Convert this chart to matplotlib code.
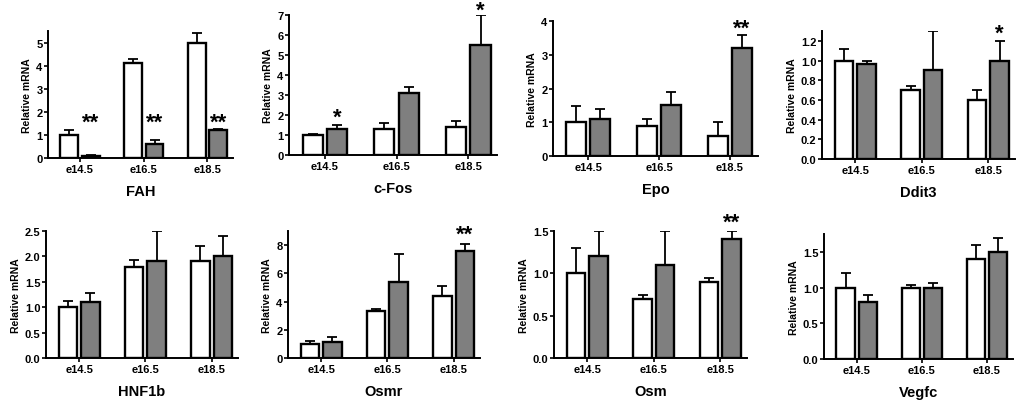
import numpy as np
import matplotlib
matplotlib.use('Agg')
import matplotlib.pyplot as plt

plt.rcParams['font.family'] = ['Liberation Sans', 'DejaVu Sans']

stages = ['e14.5', 'e16.5', 'e18.5']
genes = ['FAH', 'c-Fos', 'Epo', 'Ddit3', 'HNF1b', 'Osmr', 'Osm', 'Vegfc']

# white (control) and grey (treated) means + upper error
white = {
    'FAH':   [1.0, 4.1, 5.0],
    'c-Fos': [1.0, 1.3, 1.4],
    'Epo':   [1.0, 0.9, 0.6],
    'Ddit3': [1.0, 0.7, 0.6],
    'HNF1b': [1.0, 1.8, 1.9],
    'Osmr':  [1.0, 3.3, 4.4],
    'Osm':   [1.0, 0.7, 0.9],
    'Vegfc': [1.0, 1.0, 1.4],
}
white_err = {
    'FAH':   [0.2, 0.2, 0.4],
    'c-Fos': [0.07, 0.3, 0.3],
    'Epo':   [0.48, 0.2, 0.4],
    'Ddit3': [0.12, 0.04, 0.1],
    'HNF1b': [0.13, 0.13, 0.3],
    'Osmr':  [0.2, 0.2, 0.7],
    'Osm':   [0.3, 0.04, 0.04],
    'Vegfc': [0.2, 0.04, 0.2],
}
grey = {
    'FAH':   [0.1, 0.6, 1.2],
    'c-Fos': [1.3, 3.1, 5.5],
    'Epo':   [1.1, 1.5, 3.2],
    'Ddit3': [0.96, 0.9, 1.0],
    'HNF1b': [1.1, 1.9, 2.0],
    'Osmr':  [1.1, 5.4, 7.6],
    'Osm':   [1.2, 1.1, 1.4],
    'Vegfc': [0.8, 1.0, 1.5],
}
grey_err = {
    'FAH':   [0.02, 0.2, 0.07],
    'c-Fos': [0.2, 0.3, 1.5],
    'Epo':   [0.3, 0.4, 0.4],
    'Ddit3': [0.04, 0.4, 0.2],
    'HNF1b': [0.17, 0.6, 0.4],
    'Osmr':  [0.4, 2.0, 0.5],
    'Osm':   [0.3, 0.4, 0.1],
    'Vegfc': [0.1, 0.06, 0.2],
}
# significance marks: (group index, label, y)
stars = {
    'FAH':   [(0, '**', 1.55), (1, '**', 1.55), (2, '**', 1.55)],
    'c-Fos': [(0, '*', 1.9), (2, '*', 7.25)],
    'Epo':   [(2, '**', 3.8)],
    'Ddit3': [(2, '*', 1.28)],
    'Osmr':  [(2, '**', 8.8)],
    'Osm':   [(2, '**', 1.6)],
}
ylims = {'FAH': 5.5, 'c-Fos': 7, 'Epo': 4, 'Ddit3': 1.3,
         'HNF1b': 2.5, 'Osmr': 9, 'Osm': 1.5, 'Vegfc': 1.75}
yticks = {
    'FAH': [0, 1, 2, 3, 4, 5],
    'c-Fos': [0, 1, 2, 3, 4, 5, 6, 7],
    'Epo': [0, 1, 2, 3, 4],
    'Ddit3': [0.0, 0.2, 0.4, 0.6, 0.8, 1.0, 1.2],
    'HNF1b': [0.0, 0.5, 1.0, 1.5, 2.0, 2.5],
    'Osmr': [0, 2, 4, 6, 8],
    'Osm': [0.0, 0.5, 1.0, 1.5],
    'Vegfc': [0.0, 0.5, 1.0, 1.5],
}
fmt = {'FAH': '%d', 'c-Fos': '%d', 'Epo': '%d', 'Osmr': '%d'}

# axes boxes in pixels: left, top, right, bottom
boxes = [(48, 32, 233, 159), (289, 16, 497, 156), (553, 22, 758, 157), (822, 32, 1015, 160),
         (46, 232, 238, 359), (288, 232, 480, 359), (554, 232, 747, 359), (824, 235, 1013, 360)]

W, H = 1032, 406
fig = plt.figure(figsize=(W / 100, H / 100), dpi=100)

x = np.arange(3)
bw = 0.28
off = 0.17

for g, (l, t, r, b) in zip(genes, boxes):
    ax = fig.add_axes([l / W, 1 - b / H, (r - l) / W, (b - t) / H])
    ekw = dict(lw=1.3, capsize=3.5, capthick=1.3, ecolor='black')
    ax.bar(x - off, white[g], bw, color='white', edgecolor='black', lw=1.7,
           yerr=[np.zeros(3), white_err[g]], error_kw=ekw, zorder=3)
    ax.bar(x + off, grey[g], bw, color='#7f7f7f', edgecolor='black', lw=1.7,
           yerr=[np.zeros(3), grey_err[g]], error_kw=ekw, zorder=3)
    for i, s, yv in stars.get(g, []):
        ax.text(x[i] + off, yv, s, ha='center', va='center', fontsize=16,
                fontweight='bold')
    ax.set_xlim(-0.5, 2.4)
    ax.set_ylim(0, ylims[g])
    ax.set_yticks(yticks[g])
    if g in fmt:
        ax.set_yticklabels([fmt[g] % v for v in yticks[g]])
    else:
        ax.set_yticklabels(['%.1f' % v for v in yticks[g]])
    ax.set_xticks(x)
    ax.set_xticklabels(stages)
    for sp in ['top', 'right']:
        ax.spines[sp].set_visible(False)
    for sp in ['left', 'bottom']:
        ax.spines[sp].set_linewidth(1.4)
    ax.tick_params(axis='y', length=3, width=1.2, labelsize=8, pad=1)
    ax.tick_params(axis='x', length=3, width=1.2, labelsize=8, pad=1.5)
    for lab in ax.get_xticklabels() + ax.get_yticklabels():
        lab.set_fontweight('bold')
    ax.set_ylabel('Relative mRNA', fontsize=7.5, fontweight='bold', labelpad=3)
    ax.set_xlabel(g, fontsize=10.5, fontweight='bold', labelpad=7)

fig.savefig('out.png', dpi=100)
